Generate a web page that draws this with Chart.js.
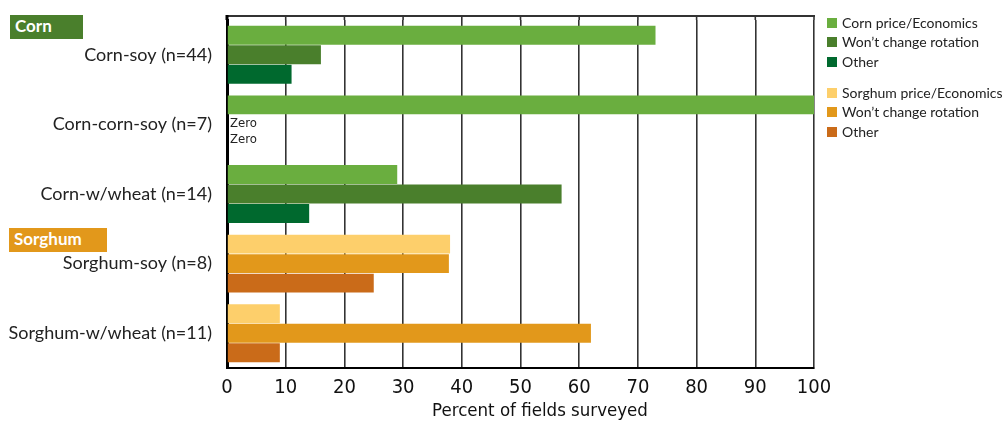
<!DOCTYPE html>
<html>
<head>
<meta charset="utf-8">
<script src="https://cdn.jsdelivr.net/npm/chart.js@4"></script>
<style>
  body { margin: 0; background: #fff; }
  #wrap { position: relative; width: 1003px; height: 424px; }
  .group-tag { position: absolute; height: 24px; line-height: 24px; color: #fff;
               font: bold 17px Lato, sans-serif; padding-left: 5px; box-sizing: border-box; }
  #legend { position: absolute; left: 827px; top: 0; font: 14px Lato, sans-serif; color: #222; }
  .lg-item { position: absolute; left: 0; white-space: nowrap; height: 14px; line-height: 14px; }
  .lg-box { position: absolute; left: 0; top: 2px; width: 10px; height: 10px; }
  .lg-text { position: absolute; left: 15px; top: 0; }
  #xtitle { position: absolute; left: 340px; width: 400px; top: 399px; text-align: center;
            font: 18.5px "Liberation Sans Narrow", "DejaVu Sans Condensed", sans-serif; color: #111; }
</style>
</head>
<body>
<div id="wrap">
  <canvas id="chart" width="1003" height="424"></canvas>
  <div class="group-tag" style="left:10px; top:15px; width:73px; background:#4a7f2c;">Corn</div>
  <div class="group-tag" style="left:9px; top:228px; width:98px; background:#e2981b;">Sorghum</div>
  <div id="legend"></div>
  <div id="xtitle">Percent of fields surveyed</div>
</div>
<script>
// categories (rows, top to bottom)
const categories = ['Corn-soy (n=44)', 'Corn-corn-soy (n=7)', 'Corn-w/wheat (n=14)', 'Sorghum-soy (n=8)', 'Sorghum-w/wheat (n=11)'];

// percent of fields surveyed
const cornPrice       = [73, 100, 29, null, null];
const cornRotation    = [16, 0, 57, null, null];
const cornOther       = [11, 0, 14, null, null];
const sorghumPrice    = [null, null, null, 38, 9];
const sorghumRotation = [null, null, null, 37.8, 62];
const sorghumOther    = [null, null, null, 25, 9];

const xTicks = [0, 10, 20, 30, 40, 50, 60, 70, 80, 90, 100];

const seriesNames  = ['Corn price/Economics', 'Won\u2019t change rotation', 'Other',
                      'Sorghum price/Economics', 'Won\u2019t change rotation', 'Other'];
const seriesColors = ['#6aae3f', '#4a7f2c', '#00692e', '#fdcf6b', '#e2981b', '#ca6b19'];
const seriesData   = [cornPrice, cornRotation, cornOther, sorghumPrice, sorghumRotation, sorghumOther];

const narrow = '"Liberation Sans Narrow", "DejaVu Sans Condensed", sans-serif';
const FRAME_TOP = 16;

// writes "Zero" where a bar has no length
const zeroLabels = {
    id: 'zeroLabels',
    afterDatasetsDraw(chart) {
        const ctx = chart.ctx;
        ctx.save();
        ctx.font = '13px ' + narrow;
        ctx.fillStyle = '#222';
        ctx.textAlign = 'left';
        ctx.textBaseline = 'middle';
        categories.forEach((c, i) => {
            let y = null;
            chart.data.datasets.forEach((ds, d) => {
                if (ds.data[i] !== 0) return;
                const el = chart.getDatasetMeta(d).data[i];
                y = (y === null) ? el.y - 1 : y + 16;
                ctx.fillText('Zero', chart.chartArea.left + 3, y);
            });
        });
        ctx.restore();
    }
};

// top edge of the frame, a little above the plot rows
const frameTop = {
    id: 'frameTop',
    afterDraw(chart) {
        const { ctx, chartArea } = chart;
        const xs = chart.scales.x;
        ctx.save();
        ctx.strokeStyle = 'rgba(0,0,0,0.8)';
        ctx.lineWidth = 1.6;
        xTicks.slice(1).forEach(v => {
            const px = xs.getPixelForValue(v);
            ctx.beginPath();
            ctx.moveTo(px, FRAME_TOP);
            ctx.lineTo(px, chartArea.top);
            ctx.stroke();
        });
        ctx.strokeStyle = '#333';
        ctx.lineWidth = 2;
        ctx.beginPath();
        ctx.moveTo(chartArea.left, FRAME_TOP);
        ctx.lineTo(chartArea.right + 1, FRAME_TOP);
        ctx.stroke();
        ctx.strokeStyle = '#000';
        ctx.lineWidth = 3;
        ctx.beginPath();
        ctx.moveTo(chartArea.left, FRAME_TOP - 1);
        ctx.lineTo(chartArea.left, chartArea.top);
        ctx.stroke();
        ctx.restore();
    }
};

const chart = new Chart(document.getElementById('chart'), {
    type: 'bar',
    data: {
        labels: categories,
        datasets: seriesData.map((d, i) => ({
            label: seriesNames[i],
            data: d,
            backgroundColor: seriesColors[i],
            borderWidth: 0,
            categoryPercentage: 0.84,
            barPercentage: 0.97
        }))
    },
    options: {
        indexAxis: 'y',
        responsive: false,
        animation: false,
        skipNull: true,
        layout: { padding: { top: 20, right: 189, bottom: 0, left: 0 } },
        plugins: { legend: { display: false }, tooltip: { enabled: false } },
        scales: {
            x: {
                min: 0,
                max: 100,
                z: 1,
                afterFit: (s) => { s.height = 56; },
                afterBuildTicks: (s) => { s.ticks = xTicks.map(v => ({ value: v })); },
                grid: {
                    color: 'rgba(0,0,0,0.8)',
                    lineWidth: 1.6,
                    drawTicks: false
                },
                border: { display: true, color: '#000', width: 2 },
                ticks: {
                    padding: 8,
                    color: '#111',
                    font: { family: narrow, size: 20 }
                }
            },
            y: {
                z: 1,
                afterFit: (s) => { s.width = 227; },
                // invisible tick marks give the 15px gap without adding vertical padding
                grid: { display: true, drawOnChartArea: false, drawTicks: true, tickLength: 15, tickColor: 'rgba(0,0,0,0)' },
                border: { display: true, color: '#000', width: 3 },
                ticks: {
                    padding: 0,
                    color: '#222',
                    font: { family: 'Lato, sans-serif', size: 18 }
                }
            }
        }
    },
    plugins: [zeroLabels, frameTop]
});

// legend in two groups, built from the datasets
const legendTops = [16, 35, 55, 86, 105, 125];
const legendEl = document.getElementById('legend');
chart.data.datasets.forEach((ds, i) => {
    const item = document.createElement('div');
    item.className = 'lg-item';
    item.style.top = legendTops[i] + 'px';
    item.innerHTML = '<span class="lg-box" style="background:' + ds.backgroundColor + '"></span>' +
                     '<span class="lg-text">' + ds.label + '</span>';
    legendEl.appendChild(item);
});
</script>
</body>
</html>
